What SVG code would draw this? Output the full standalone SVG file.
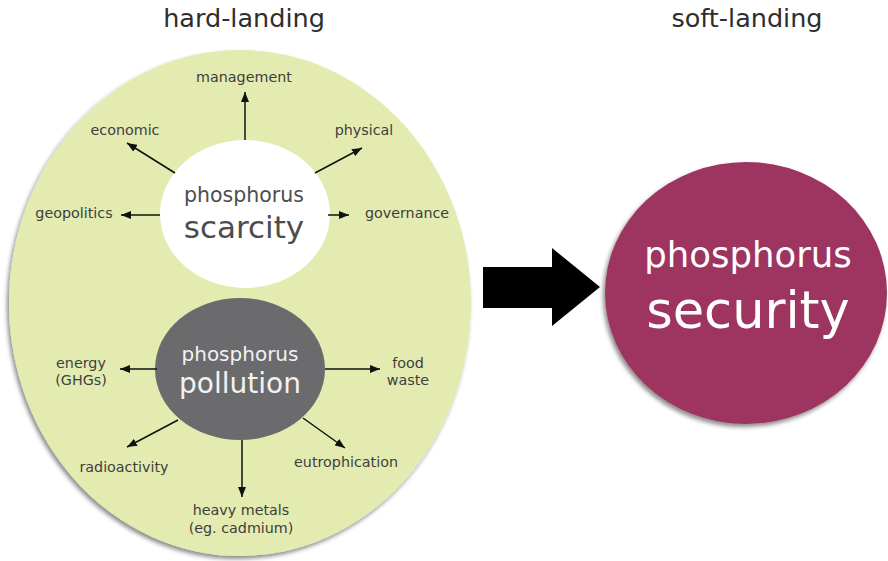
<svg xmlns="http://www.w3.org/2000/svg" width="888" height="561" viewBox="0 0 888 561">
<style>
.t{font-family:"DejaVu Sans","Liberation Sans",sans-serif;}
.head{font-size:25.5px;fill:#2e2e2e;text-anchor:middle;}
.lbl{font-size:14.3px;fill:#3e3e3e;text-anchor:middle;}
.con line{stroke:#111;stroke-width:1.5;fill:none;marker-end:url(#ah);}
</style>
<defs>
<marker id="ah" viewBox="0 0 10 8" markerWidth="10" markerHeight="8" refX="10" refY="4" orient="auto" markerUnits="userSpaceOnUse">
<path d="M0,0 L10,4 L0,8 z" fill="#111"/>
</marker>
<filter id="sh" x="-10%" y="-10%" width="120%" height="120%">
<feDropShadow dx="-2" dy="3" stdDeviation="2" flood-color="#000" flood-opacity="0.45"/>
</filter>
</defs>
<rect width="888" height="561" fill="#ffffff"/>
<text class="t head" x="244" y="27">hard-landing</text>
<text class="t head" x="747" y="27">soft-landing</text>
<g id="hard-landing">
<ellipse cx="240" cy="303" rx="231" ry="253" fill="#e3ebb1" filter="url(#sh)"/>
</g>
<g id="scarcity">
<ellipse cx="245" cy="214" rx="85" ry="74" fill="#ffffff"/>
<text class="t" x="244" y="202" font-size="20.5" fill="#4d4d4d" text-anchor="middle">phosphorus</text>
<text class="t" x="244" y="238" font-size="31" fill="#4d4d4d" text-anchor="middle">scarcity</text>
</g>
<g id="pollution">
<ellipse cx="240" cy="369" rx="85" ry="71" fill="#6b6b6d"/>
<text class="t" x="240" y="361" font-size="20" fill="#f2f2f2" text-anchor="middle">phosphorus</text>
<text class="t" x="240" y="393" font-size="28" fill="#f2f2f2" text-anchor="middle">pollution</text>
</g>
<g id="security">
<ellipse cx="746" cy="293" rx="141" ry="131" fill="#9d3560" filter="url(#sh)"/>
<text class="t" x="748" y="267" font-size="35.5" fill="#ffffff" text-anchor="middle">phosphorus</text>
<text class="t" x="748" y="328" font-size="51" fill="#ffffff" text-anchor="middle">security</text>
</g>
<g id="labels">
<text class="t lbl" x="244" y="82">management</text>
<text class="t lbl" x="125" y="135">economic</text>
<text class="t lbl" x="364" y="135">physical</text>
<text class="t lbl" x="74" y="218">geopolitics</text>
<text class="t lbl" x="407" y="218">governance</text>
<text class="t lbl" x="81" y="368">energy</text>
<text class="t lbl" x="81" y="385">(GHGs)</text>
<text class="t lbl" x="408" y="368">food</text>
<text class="t lbl" x="408" y="385">waste</text>
<text class="t lbl" x="124" y="472">radioactivity</text>
<text class="t lbl" x="346" y="467">eutrophication</text>
<text class="t lbl" x="241" y="515">heavy metals</text>
<text class="t lbl" x="241" y="533">(eg. cadmium)</text>
</g>
<g id="connectors" class="con">
<line x1="245" y1="140" x2="245" y2="92"/>
<line x1="175" y1="173" x2="127" y2="143"/>
<line x1="315" y1="173" x2="362" y2="148"/>
<line x1="160" y1="215" x2="121" y2="215"/>
<line x1="328" y1="215" x2="349" y2="215"/>
<line x1="157" y1="369" x2="120" y2="369"/>
<line x1="325" y1="369" x2="380" y2="369"/>
<line x1="178" y1="420" x2="127" y2="447"/>
<line x1="303" y1="418" x2="345" y2="448"/>
<line x1="242" y1="440" x2="242" y2="497"/>
</g>
<g id="big-arrow">
<path d="M483,267 L552,267 L552,248 L600,287 L552,326 L552,308 L483,308 Z" fill="#000"/>
</g>
</svg>
